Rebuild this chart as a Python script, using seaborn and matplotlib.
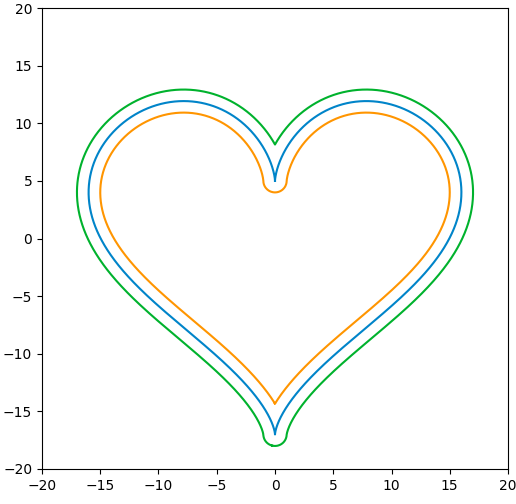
import numpy as np
import pandas as pd
import matplotlib
matplotlib.use("Agg")
import matplotlib.pyplot as plt
import seaborn as sns
import contourpy

# Heart curve coefficients: x = 16 sin^3 t ; y = 13cos t - 5cos 2t - 2cos 3t - cos 4t
x_amp = [16]
y_cos_coefs = [13, -5, -2, -1]
offsets = [-1, 0, 1]          # inner, base, outer
colors = ["#ff9500", "#0084c9", "#00b22d"]
xticks = [-20, -15, -10, -5, 0, 5, 10, 15, 20]
yticks = [-20, -15, -10, -5, 0, 5, 10, 15, 20]

t = np.linspace(0, 2 * np.pi, 3001)
bx = x_amp[0] * np.sin(t) ** 3
by = sum(c * np.cos((k + 1) * t) for k, c in enumerate(y_cos_coefs))

# unsigned distance field to the base curve
step = 0.06
gx = np.arange(-19.5, 19.5 + step, step)
gy = np.arange(-20.0, 15.0 + step, step)
GX, GY = np.meshgrid(gx, gy)
P = np.column_stack([GX.ravel(), GY.ravel()]).astype(np.float32)
C = np.column_stack([bx, by]).astype(np.float32)
D = np.empty(len(P), dtype=np.float32)
chunk = 4000
for i in range(0, len(P), chunk):
    p = P[i:i + chunk]
    d2 = (p[:, None, 0] - C[None, :, 0]) ** 2 + (p[:, None, 1] - C[None, :, 1]) ** 2
    D[i:i + chunk] = np.sqrt(d2.min(axis=1))
D = D.reshape(GX.shape)

cg = contourpy.contour_generator(GX, GY, D)
lines = cg.lines(1.0)
lines = sorted(lines, key=lambda a: len(a), reverse=True)[:2]
lines = sorted(lines, key=lambda a: np.abs(a[:, 0]).max())
inner, outer = lines[0], lines[1]

fig = plt.figure(figsize=(5.16, 5.04), dpi=100)
ax = fig.add_axes([42 / 516, 35 / 504, 466 / 516, 461 / 504])

curves = [inner, np.column_stack([bx, by]), outer]
for arr, col in zip(curves, colors):
    df = pd.DataFrame({"x": arr[:, 0], "y": arr[:, 1]})
    sns.lineplot(data=df, x="x", y="y", sort=False, estimator=None,
                 color=col, linewidth=1.5, ax=ax)

ax.set_xlim(-20, 20)
ax.set_ylim(-20, 20)
ax.set_xticks(xticks)
ax.set_yticks(yticks)
ax.set_xlabel("")
ax.set_ylabel("")
fig.savefig("out.png", dpi=100)
